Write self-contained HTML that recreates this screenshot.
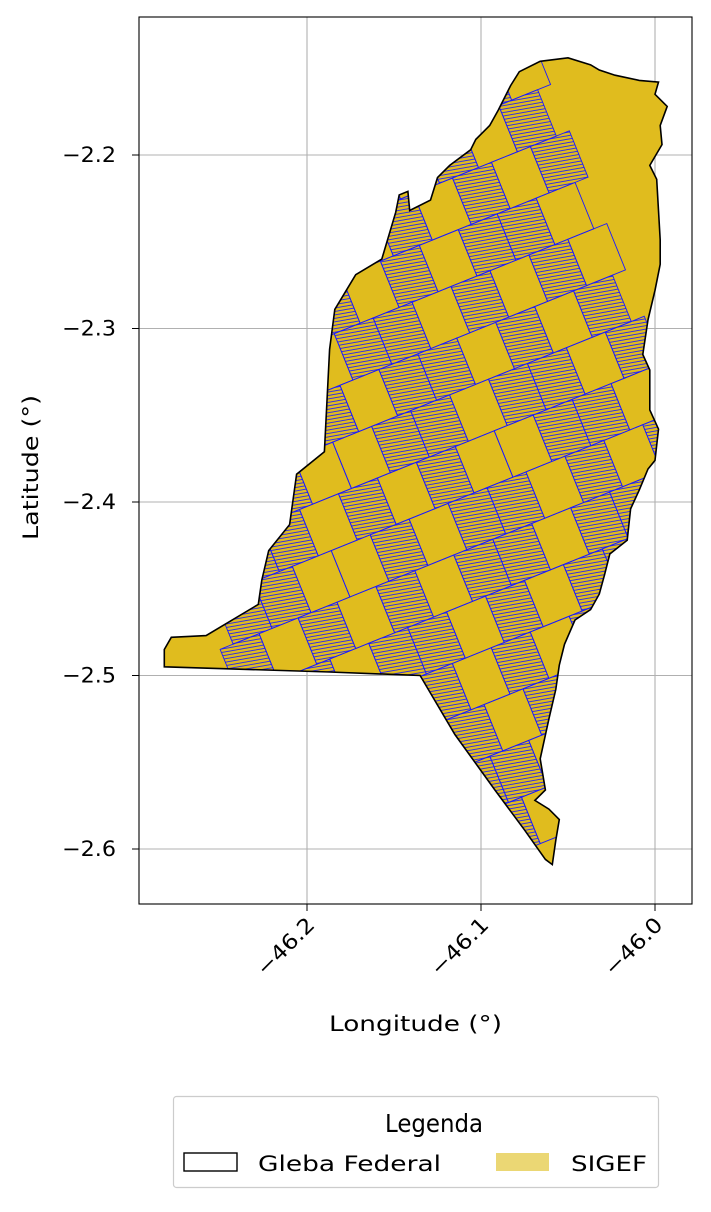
<!DOCTYPE html>
<html><head><meta charset="utf-8">
<style>
body{margin:0;background:#fff;font-family:"Liberation Sans","DejaVu Sans",sans-serif;}
svg text{font-family:"DejaVu Sans","Liberation Sans",sans-serif;}
</style></head>
<body>
<svg id="chart" width="711" height="1207" viewBox="0 0 711 1207" xmlns="http://www.w3.org/2000/svg">
<defs>
<clipPath id="axclip"><rect x="139" y="17" width="553" height="887"/></clipPath>
<clipPath id="shapeclip"><path id="clipPathShape" d=""/></clipPath>
<pattern id="hatch" width="40" height="3.4" patternUnits="userSpaceOnUse" patternTransform="rotate(12)">
<line x1="0" y1="1" x2="40" y2="1" stroke="#1a1aff" stroke-width="0.9"/>
</pattern>
</defs>
<rect x="0" y="0" width="711" height="1207" fill="#fff"/>
<g id="grid"></g>
<g clip-path="url(#axclip)">
<path id="gleba" d="" fill="#e0bc1e" stroke="none"/>
<g id="parcels" clip-path="url(#shapeclip)"></g>
<path id="glebaOutline" d="" fill="none" stroke="#000" stroke-width="1.6"/>
</g>
<rect x="139" y="17" width="553" height="887" fill="none" stroke="#000" stroke-width="1.1"/>
<g id="xticks"></g>
<g id="yticks"></g>
<text x="329" y="1031" font-size="21" textLength="173" lengthAdjust="spacingAndGlyphs">Longitude (°)</text>
<text transform="translate(38,540) rotate(-90)" font-size="21" textLength="145" lengthAdjust="spacingAndGlyphs">Latitude (°)</text>
<g>
<rect x="173.5" y="1096.5" width="485" height="91" rx="3" fill="#fff" stroke="#ccc" stroke-width="1.2"/>
<text x="385" y="1132" font-size="25" textLength="98" lengthAdjust="spacingAndGlyphs">Legenda</text>
<rect x="184" y="1153" width="53" height="18" fill="none" stroke="#000" stroke-width="1.4"/>
<text x="258" y="1171" font-size="21" textLength="183" lengthAdjust="spacingAndGlyphs">Gleba Federal</text>
<rect x="496" y="1153" width="53" height="18" fill="#ebd774"/>
<text x="571" y="1171" font-size="21" textLength="76" lengthAdjust="spacingAndGlyphs">SIGEF</text>
</g>
</svg>
<script>
const xTicks=[-46.2,-46.1,-46.0];
const xTickLabels=["\u221246.2","\u221246.1","\u221246.0"];
const yTicks=[-2.2,-2.3,-2.4,-2.5,-2.6];
const yTickLabels=["\u22122.2","\u22122.3","\u22122.4","\u22122.5","\u22122.6"];
const outlineLon=[-46.282,-46.278,-46.258,-46.228,-46.226,-46.222,-46.210,-46.206,-46.190,-46.187,-46.184,-46.172,-46.157,-46.149,-46.147,-46.142,-46.141,-46.129,-46.125,-46.118,-46.106,-46.103,-46.095,-46.090,-46.083,-46.078,-46.066,-46.050,-46.037,-46.032,-46.023,-46.009,-45.998,-46.000,-45.993,-45.997,-45.996,-46.003,-45.999,-45.998,-45.997,-45.997,-46.000,-46.004,-46.007,-46.003,-46.003,-45.998,-46.000,-46.004,-46.009,-46.014,-46.016,-46.026,-46.029,-46.032,-46.037,-46.046,-46.052,-46.055,-46.057,-46.061,-46.066,-46.063,-46.069,-46.061,-46.055,-46.057,-46.059,-46.063,-46.075,-46.092,-46.115,-46.135,-46.187,-46.282];
const outlineLat=[-2.485,-2.478,-2.477,-2.459,-2.445,-2.428,-2.413,-2.384,-2.371,-2.312,-2.289,-2.269,-2.260,-2.233,-2.223,-2.221,-2.232,-2.226,-2.213,-2.206,-2.197,-2.191,-2.183,-2.174,-2.160,-2.152,-2.146,-2.144,-2.148,-2.151,-2.154,-2.157,-2.158,-2.165,-2.172,-2.183,-2.194,-2.206,-2.214,-2.232,-2.249,-2.263,-2.278,-2.295,-2.315,-2.324,-2.347,-2.358,-2.376,-2.381,-2.393,-2.404,-2.422,-2.430,-2.442,-2.453,-2.462,-2.468,-2.482,-2.494,-2.508,-2.525,-2.548,-2.566,-2.572,-2.577,-2.583,-2.595,-2.609,-2.606,-2.589,-2.566,-2.534,-2.500,-2.498,-2.495];
// parcel block hatch flags (1 = densely subdivided, 0 = single parcel)
const blockHatch=[1,0,1,1,0,1,0,1,1,0,1,0,0,1,1,0,1,1,0,1,0,1,1,0,1,0,1,0,0,1,1,0,1,1,0,0,1,0,1,1,0,1,0,1,1,0,1,0,1,0,1,1,0,1,1,0,0,1,0,1,1,0,1,0,1,1,0,1,0,1,0,1,1,0,1,0,1,1,0,1,0,1,1,0,1,0,1,1,0,1,1,0,1,0,1,0,1,1,0,1];

const X=lon=>307+(lon+46.2)*1740;
const Y=lat=>155-(lat+2.2)*1735;
const NS="http://www.w3.org/2000/svg";

let d="";
for(let i=0;i<outlineLon.length;i++){d+=(i?"L":"M")+X(outlineLon[i]).toFixed(1)+","+Y(outlineLat[i]).toFixed(1);}
d+="Z";
document.getElementById("gleba").setAttribute("d",d);
document.getElementById("glebaOutline").setAttribute("d",d);
document.getElementById("clipPathShape").setAttribute("d",d);

const grid=document.getElementById("grid");
xTicks.forEach((t,i)=>{
  const l=document.createElementNS(NS,"line");
  
  
  l.setAttribute("x1",X(t));l.setAttribute("x2",X(t));l.setAttribute("y1",17);l.setAttribute("y2",904);
  l.setAttribute("stroke","#b0b0b0");l.setAttribute("stroke-width","1.1");grid.appendChild(l);
  const tk=document.createElementNS(NS,"line");
  
  
  tk.setAttribute("x1",X(t));tk.setAttribute("x2",X(t));tk.setAttribute("y1",904);tk.setAttribute("y2",911);
  tk.setAttribute("stroke","#000");document.getElementById("xticks").appendChild(tk);
  const tx=document.createElementNS(NS,"text");
  
  
  tx.setAttribute("font-size","21");tx.setAttribute("text-anchor","end");
  tx.setAttribute("textLength","72");tx.setAttribute("lengthAdjust","spacingAndGlyphs");
  tx.setAttribute("transform","translate("+(X(t)+9)+",926) rotate(-45)");
  tx.textContent=xTickLabels[i];document.getElementById("xticks").appendChild(tx);
});
yTicks.forEach((t,i)=>{
  const l=document.createElementNS(NS,"line");
  
  
  l.setAttribute("x1",139);l.setAttribute("x2",692);l.setAttribute("y1",Y(t));l.setAttribute("y2",Y(t));
  l.setAttribute("stroke","#b0b0b0");l.setAttribute("stroke-width","1.1");grid.appendChild(l);
  const tk=document.createElementNS(NS,"line");
  
  
  tk.setAttribute("x1",132);tk.setAttribute("x2",139);tk.setAttribute("y1",Y(t));tk.setAttribute("y2",Y(t));
  tk.setAttribute("stroke","#000");document.getElementById("yticks").appendChild(tk);
  const tx=document.createElementNS(NS,"text");
  
  
  tx.setAttribute("font-size","21");
  tx.setAttribute("textLength","54");tx.setAttribute("lengthAdjust","spacingAndGlyphs");
  tx.setAttribute("x",62);tx.setAttribute("y",Y(t)+7);
  tx.textContent=yTickLabels[i];document.getElementById("yticks").appendChild(tx);
});

// parcel blocks: rotated grid
const parcels=document.getElementById("parcels");
const g=document.createElementNS(NS,"g");
g.setAttribute("transform","rotate(-22 420 450)");
parcels.appendChild(g);
const bw=42,bh=50;
let k=0;
for(let r=0;r<18;r++){
  for(let c=0;c<12;c++){
    const rc=document.createElementNS(NS,"rect");
    
    
    const off=(r%2)*14;
    rc.setAttribute("x",160+c*bw+off);rc.setAttribute("y",-40+r*bh);
    rc.setAttribute("width",bw);rc.setAttribute("height",bh);
    const h=blockHatch[k%blockHatch.length];k++;
    rc.setAttribute("fill",h?"url(#hatch)":"none");
    rc.setAttribute("stroke","#1a1aff");rc.setAttribute("stroke-width","0.9");
    g.appendChild(rc);
  }
}
</script>
</body></html>
